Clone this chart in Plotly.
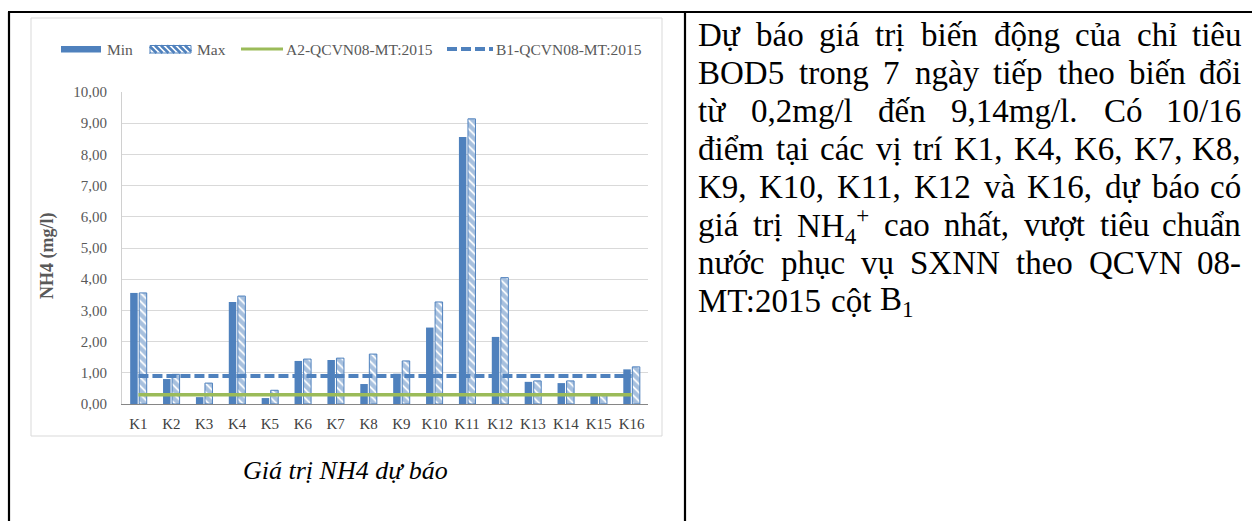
import unicodedata
import plotly.graph_objects as go

# ---------------- data ----------------
categories = ["K1", "K2", "K3", "K4", "K5", "K6", "K7", "K8",
              "K9", "K10", "K11", "K12", "K13", "K14", "K15", "K16"]
min_values = [3.56, 0.80, 0.22, 3.27, 0.19, 1.38, 1.41, 0.64,
              0.97, 2.45, 8.56, 2.15, 0.71, 0.67, 0.30, 1.11]
max_values = [3.56, 0.95, 0.67, 3.46, 0.44, 1.44, 1.47, 1.60,
              1.38, 3.27, 9.14, 4.05, 0.74, 0.74, 0.30, 1.19]
a2_values = [0.3, 0.3, 0.3, 0.3, 0.3, 0.3, 0.3, 0.3,
             0.3, 0.3, 0.3, 0.3, 0.3, 0.3, 0.3, 0.3]
b1_values = [0.9, 0.9, 0.9, 0.9, 0.9, 0.9, 0.9, 0.9,
             0.9, 0.9, 0.9, 0.9, 0.9, 0.9, 0.9, 0.9]
legend_names = ["Min", "Max", "A2-QCVN08-MT:2015", "B1-QCVN08-MT:2015"]
y_title = "NH4 (mg/l)"
caption = "Giá trị NH4 dự báo"
para_lines = [
    "Dự báo giá trị biến động của chỉ tiêu",
    "BOD5 trong 7 ngày tiếp theo biến đổi",
    "từ 0,2mg/l đến 9,14mg/l. Có 10/16",
    "điểm tại các vị trí K1, K4, K6, K7, K8,",
    "K9, K10, K11, K12 và K16, dự báo có",
    "giá trị NH<sub>4</sub><sup>+</sup> cao nhất, vượt tiêu chuẩn",
    "nước phục vụ SXNN theo QCVN 08-",
    "MT:2015 cột B<sub>1</sub>",
]

BLUE = "#4f81bd"
GREEN = "#9bbb59"
SERIF = "Liberation Serif"

W, H = 1252, 521
L, T, R, B = 122, 92, 648, 404
PW, PH = R - L, B - T


def px(x):
    return (x - L) / PW


def py(y):
    return 1 - (y - T) / PH


# Times-compatible advance widths (per 1000 em)
TW = {" ": 250, "!": 333, ",": 250, "-": 333, ".": 250, "/": 278, ":": 278, "+": 564,
      "A": 722, "B": 667, "C": 667, "D": 722, "E": 611, "F": 556, "G": 722, "H": 722,
      "I": 333, "J": 389, "K": 722, "L": 611, "M": 889, "N": 722, "O": 722, "P": 556,
      "Q": 722, "R": 667, "S": 556, "T": 611, "U": 722, "V": 722, "W": 944, "X": 722,
      "Y": 722, "Z": 611, "a": 444, "b": 500, "c": 444, "d": 500, "e": 444, "f": 333,
      "g": 500, "h": 500, "i": 278, "j": 278, "k": 500, "l": 278, "m": 778, "n": 500,
      "o": 500, "p": 500, "q": 500, "r": 333, "s": 389, "t": 278, "u": 500, "v": 500,
      "w": 722, "x": 500, "y": 500, "z": 444}
for d in "0123456789":
    TW[d] = 500


def char_w(ch):
    if ch in TW:
        return TW[ch]
    if ch == "đ":
        return 500
    if ch == "Đ":
        return 722
    dec = unicodedata.normalize("NFD", ch)
    w = TW.get(dec[0], 500)
    if "\u031b" in dec:
        w += 40
    return w


def text_w(s, size):
    total = 0.0
    scale = 1.0
    i = 0
    while i < len(s):
        if s.startswith("<sub>", i) or s.startswith("<sup>", i):
            scale = 0.7
            i += 5
            continue
        if s.startswith("</sub>", i) or s.startswith("</sup>", i):
            scale = 1.0
            i += 6
            continue
        total += char_w(s[i]) * scale
        i += 1
    return total / 1000.0 * size


fig = go.Figure()
fig.add_bar(x=categories, y=min_values, name=legend_names[0],
            marker=dict(color=BLUE, line=dict(width=0)))
fig.add_bar(x=categories, y=max_values, name=legend_names[1],
            marker=dict(color="white", line=dict(color=BLUE, width=1),
                        pattern=dict(shape="\\", fgcolor=BLUE, bgcolor="white",
                                     size=6, solidity=0.7)))
fig.add_scatter(x=categories, y=a2_values, name=legend_names[2], mode="lines",
                line=dict(color=GREEN, width=3.5))
fig.add_scatter(x=categories, y=b1_values, name=legend_names[3], mode="lines",
                line=dict(color=BLUE, width=4, dash="10px,4px"))

shapes = []
annotations = []

# outer table lines
for (x0, y0, x1, y1) in [(8, 12, W, 12), (9, 12, 9, H), (685, 12, 685, H)]:
    shapes.append(dict(type="line", xref="paper", yref="paper",
                       x0=px(x0), y0=py(y0), x1=px(x1), y1=py(y1),
                       line=dict(color="black", width=2.2), layer="above"))
# chart frame
shapes.append(dict(type="rect", xref="paper", yref="paper",
                   x0=px(31), y0=py(18), x1=px(662), y1=py(436),
                   line=dict(color="#d9d9d9", width=1), layer="below"))

# custom legend
LY = 49
shapes.append(dict(type="rect", xref="paper", yref="paper",
                   x0=px(61), y0=py(46), x1=px(101), y1=py(52.5),
                   fillcolor=BLUE, line=dict(width=0)))
shapes.append(dict(type="rect", xref="paper", yref="paper",
                   x0=px(150), y0=py(45.5), x1=px(191), y1=py(53),
                   fillcolor="white", line=dict(color=BLUE, width=1)))
path = ""
for x0 in range(143, 192, 6):
    xs, ys = x0, 45.5
    xe, ye = x0 + 7.5, 53
    if xs < 150:
        ys += (150 - xs)
        xs = 150
    if xe > 191:
        ye -= (xe - 191)
        xe = 191
    if xe > xs:
        path += f"M{px(xs)},{py(ys)} L{px(xe)},{py(ye)} "
shapes.append(dict(type="path", xref="paper", yref="paper", path=path,
                   line=dict(color=BLUE, width=2.5)))
shapes.append(dict(type="line", xref="paper", yref="paper",
                   x0=px(241), y0=py(LY), x1=px(283), y1=py(LY),
                   line=dict(color=GREEN, width=3)))
shapes.append(dict(type="line", xref="paper", yref="paper",
                   x0=px(447), y0=py(LY), x1=px(493), y1=py(LY),
                   line=dict(color=BLUE, width=4, dash="10px,4px")))
for name, x in zip(legend_names, [106, 196, 285, 495]):
    annotations.append(dict(xref="paper", yref="paper", x=px(x), y=py(LY),
                            xanchor="left", yanchor="middle", text=name,
                            showarrow=False, borderpad=0,
                            font=dict(family=SERIF, size=15.5, color="#595959")))

# y-axis title
annotations.append(dict(xref="paper", yref="paper", x=px(47), y=py(256),
                        xanchor="center", yanchor="middle", textangle=-90,
                        text=f"<b>{y_title}</b>", showarrow=False,
                        font=dict(family=SERIF, size=18, color="#595959")))
# caption
annotations.append(dict(xref="paper", yref="paper", x=px(345), y=py(470),
                        xanchor="center", yanchor="middle",
                        text=f"<i>{caption}</i>", showarrow=False,
                        font=dict(family=SERIF, size=26, color="black")))

# justified paragraph on the right
TX0, TX1 = 697, 1242
FS = 33
for li, line in enumerate(para_lines):
    yc = 35 + 38 * li
    words = line.split(" ")
    widths = [text_w(w, FS) for w in words]
    last = li == len(para_lines) - 1
    if last or len(words) == 1:
        gap = text_w(" ", FS)
    else:
        gap = (TX1 - TX0 - sum(widths)) / (len(words) - 1)
    xcur = TX0
    for wi, (w, wd) in enumerate(zip(words, widths)):
        if not last and wi == len(words) - 1 and len(words) > 1:
            annotations.append(dict(xref="paper", yref="paper", x=px(TX1), y=py(yc),
                                    xanchor="right", yanchor="middle", text=w,
                                    showarrow=False, borderpad=0,
                                    font=dict(family=SERIF, size=FS, color="black")))
        else:
            annotations.append(dict(xref="paper", yref="paper", x=px(xcur), y=py(yc),
                                    xanchor="left", yanchor="middle", text=w,
                                    showarrow=False, borderpad=0,
                                    font=dict(family=SERIF, size=FS, color="black")))
        xcur += wd + gap

fig.update_layout(
    width=W, height=H,
    margin=dict(l=L, r=W - R, t=T, b=H - B, pad=0),
    paper_bgcolor="white", plot_bgcolor="white",
    barmode="group", bargap=0.45, bargroupgap=0.17,
    showlegend=False,
    separators=",.",
    shapes=shapes, annotations=annotations,
    font=dict(family=SERIF, color="#595959"),
)
fig.update_xaxes(showline=True, linecolor="#868686", linewidth=1,
                 showgrid=False, ticks="", ticklabelstandoff=6,
                 tickfont=dict(family=SERIF, size=15, color="#404040"))
fig.update_yaxes(range=[0, 10], dtick=1, tickformat=".2f",
                 showgrid=True, gridcolor="#d9d9d9", gridwidth=1,
                 zeroline=False, showline=True, linecolor="#d0d0d0",
                 ticks="", ticklabelstandoff=11,
                 tickfont=dict(family=SERIF, size=15, color="#595959"))

fig.write_html("out.html", config={"displayModeBar": False},
               post_script="document.body.style.margin='0px';")
